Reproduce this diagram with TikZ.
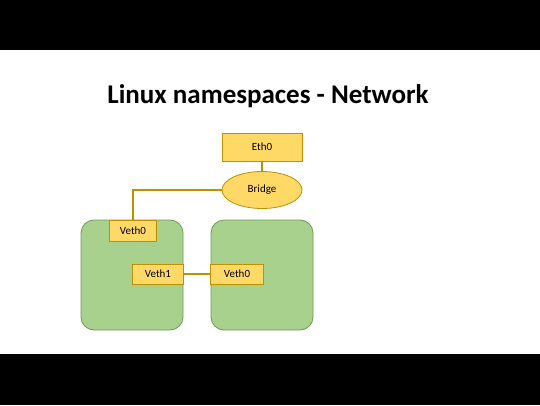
\documentclass[tikz,border=0pt]{standalone}
\usepackage{fontspec}
\setmainfont{Carlito}
\usepackage{xcolor}
\usepackage{tikz}
\usetikzlibrary{shapes,positioning,calc}

\definecolor{goldfill}{HTML}{FFD966}
\definecolor{goldline}{HTML}{BF9000}
\definecolor{nsfill}{HTML}{A9D18E}
\definecolor{nsline}{HTML}{6F9A52}

\begin{document}
\begin{tikzpicture}[
    x=1pt, y=-1pt,
    iface/.style={rectangle, draw=goldline, fill=goldfill, line width=0.8pt, inner sep=0pt, font=\fontsize{11}{13}\selectfont},
    bridgenode/.style={ellipse, draw=goldline, fill=goldfill, line width=0.8pt, inner sep=0pt, minimum width=80pt, minimum height=37pt, font=\fontsize{11}{13}\selectfont},
    nsbox/.style={rectangle, rounded corners=13pt, draw=nsline, fill=nsfill, line width=0.8pt, minimum width=102pt, minimum height=110pt},
    link/.style={draw=goldline, line width=1.6pt}
]
    \useasboundingbox (0,0) rectangle (540,405);
    \fill[black] (0,0) rectangle (540,50);
    \fill[black] (0,354) rectangle (540,405);

    \node[anchor=base, font=\fontsize{27}{32}\selectfont\bfseries] (title) at (268,103) {Linux namespaces - Network};

    % namespaces
    \node[nsbox] (nsleft) at (132,275) {};
    \node[nsbox] (nsright) at (262,275) {};

    % interfaces
    \node[iface, minimum width=80pt, minimum height=28pt] (eth) at (262,147) {Eth0};
    \node[bridgenode] (bridge) at (262,190) {Bridge};
    \node[iface, minimum width=47pt, minimum height=21pt] (vethhost) at (133,230.5) {Veth0};
    \node[iface, minimum width=51pt, minimum height=20pt] (vethone) at (158,274) {Veth1};
    \node[iface, minimum width=53pt, minimum height=20pt] (vethzero) at (237,274) {Veth0};

    \draw[link] (eth) -- (bridge);
    \draw[link] (bridge.west) -| (vethhost.north);
    \draw[link] (vethone) -- (vethzero);
\end{tikzpicture}
\end{document}
